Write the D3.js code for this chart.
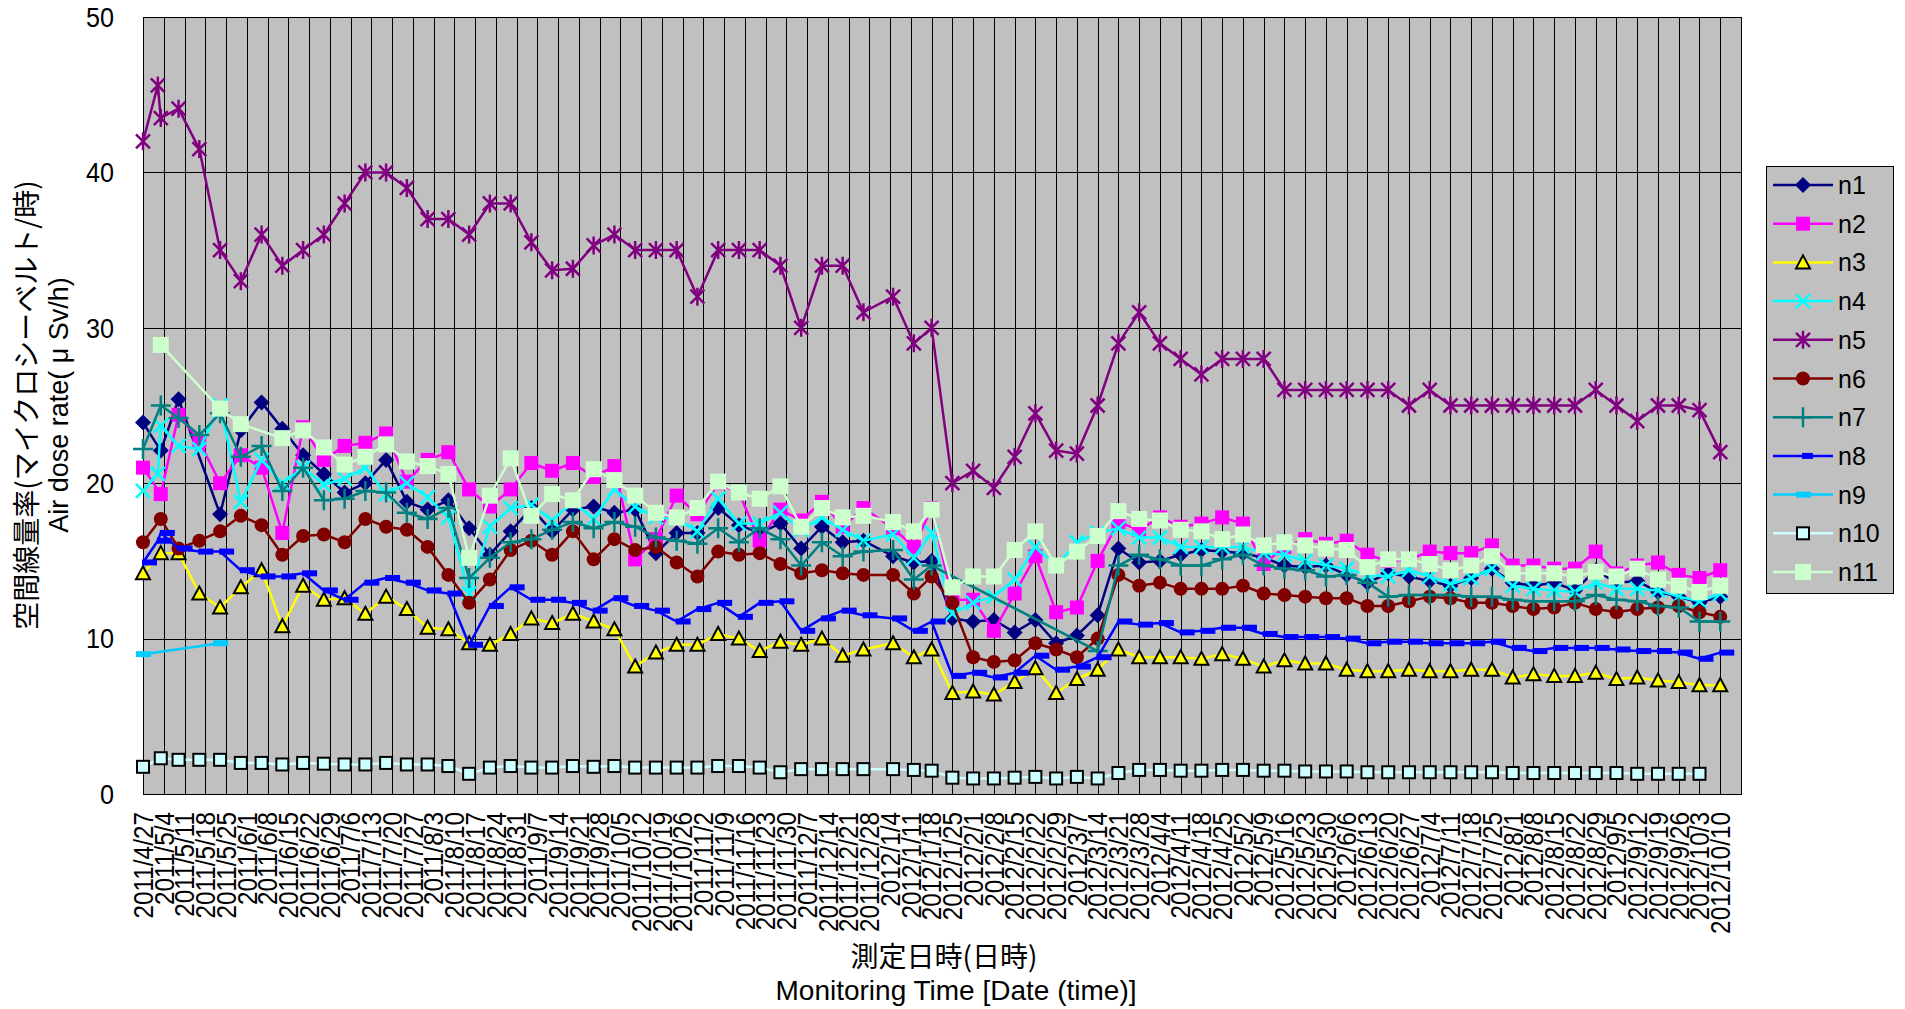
<!DOCTYPE html>
<html>
<head>
<meta charset="utf-8">
<script src="https://cdn.jsdelivr.net/npm/d3@7"></script>
<style>
  body { margin: 0; background: #fff; }
  svg { display: block; font-family: "Liberation Sans", Arial, sans-serif; }
</style>
</head>
<body>
<svg id="chart" width="1905" height="1009"></svg>
<script>
// measurement dates (x values)
const dates = [
  "2011/4/27","2011/5/2","2011/5/3","2011/5/9","2011/5/16","2011/5/23","2011/5/30","2011/6/6","2011/6/13","2011/6/20",
  "2011/6/27","2011/7/4","2011/7/11","2011/7/18","2011/7/25","2011/8/1","2011/8/8","2011/8/15","2011/8/22","2011/8/29",
  "2011/9/5","2011/9/12","2011/9/19","2011/9/26","2011/10/3","2011/10/10","2011/10/17","2011/10/24","2011/10/31","2011/11/7",
  "2011/11/14","2011/11/21","2011/11/28","2011/12/5","2011/12/12","2011/12/19","2011/12/26","2012/1/5","2012/1/12","2012/1/18",
  "2012/1/25","2012/2/1","2012/2/8","2012/2/15","2012/2/22","2012/2/29","2012/3/7","2012/3/14","2012/3/21","2012/3/28",
  "2012/4/4","2012/4/11","2012/4/18","2012/4/25","2012/5/2","2012/5/9","2012/5/16","2012/5/23","2012/5/30","2012/6/6",
  "2012/6/13","2012/6/20","2012/6/27","2012/7/4","2012/7/11","2012/7/18","2012/7/25","2012/8/1","2012/8/8","2012/8/15",
  "2012/8/22","2012/8/29","2012/9/5","2012/9/12","2012/9/19","2012/9/26","2012/10/3","2012/10/10"
];

const n1 = [23.9, null, 22.1, 25.4, null, 18.0, 23.4, 25.2, 23.5, 21.8,
  20.6, 19.4, 20.0, 21.5, 18.8, 18.3, 18.9, 17.1, 15.4, 16.9,
  18.4, 16.9, 18.3, 18.5, 18.1, 18.3, 15.5, 16.8, 16.8, 18.4,
  17.3, 16.8, 17.4, 15.8, 17.2, 16.2, 16.3, 15.3, 14.9, 15.0,
  11.3, 11.1, 11.2, 10.4, 11.2, 9.7, 10.2, 11.5, 15.8, 14.9,
  15.0, 15.4, 15.7, 15.6, 15.5, 15.2, 14.7, 14.6, 14.7, 14.1,
  13.6, 14.2, 14.0, 13.7, 13.4, 13.9, 14.5, 13.6, 13.4, 13.6,
  13.1, 14.4, 13.6, 13.7, 13.0, 12.7, 12.3, 12.7];

const n2 = [21.0, null, 19.3, 24.4, 22.7, 20.0, 21.8, 21.0, 16.8, 23.6,
  21.5, 22.4, 22.6, 23.2, 20.1, 21.5, 22.0, 19.6, 18.5, 19.6,
  21.3, 20.8, 21.3, 20.4, 21.1, 15.1, 16.4, 19.2, 18.0, 20.0,
  19.4, 16.3, 18.3, 17.6, 18.8, 17.2, 18.4, 17.1, 15.9, 18.4,
  12.5, 12.5, 10.5, 12.9, 15.3, 11.7, 12.0, 15.0, 17.5, 17.0,
  17.8, 17.2, 17.4, 17.8, 17.4, 14.8, 15.9, 16.4, 16.1, 16.3,
  15.4, 15.0, 15.1, 15.6, 15.5, 15.5, 16.0, 14.7, 14.7, 14.5,
  14.5, 15.6, 14.2, 14.7, 14.9, 14.1, 13.9, 14.4];

const n3 = [14.2, null, 15.5, 15.5, 12.9, 12.0, 13.3, 14.4, 10.8, 13.4,
  12.5, 12.6, 11.6, 12.7, 11.9, 10.7, 10.6, 9.7, 9.6, 10.3,
  11.3, 11.0, 11.6, 11.1, 10.6, 8.2, 9.1, 9.6, 9.6, 10.3,
  10.0, 9.2, 9.8, 9.6, 10.0, 8.9, 9.3, 9.7, 8.8, 9.3,
  6.5, 6.6, 6.4, 7.2, 8.1, 6.5, 7.4, 8.0, 9.3, 8.8,
  8.8, 8.8, 8.7, 9.0, 8.7, 8.2, 8.6, 8.4, 8.4, 8.0,
  7.9, 7.9, 8.0, 7.9, 7.9, 8.0, 8.0, 7.5, 7.7, 7.6,
  7.6, 7.8, 7.4, 7.5, 7.3, 7.2, 7.0, 7.0];

const n4 = [19.5, 20.6, 23.7, 22.4, 22.2, 25.0, 18.8, 21.5, 20.0, 21.0,
  19.9, 20.3, 21.0, 19.3, 20.0, 19.1, 17.8, 12.9, 17.2, 18.4,
  18.6, 17.6, 18.8, 17.7, 19.6, 18.5, 17.8, 17.7, 16.9, 19.0,
  17.4, 17.4, 18.1, 17.0, 17.8, 17.0, 16.3, 16.7, 15.2, 16.8,
  11.6, 12.3, 12.7, 13.8, 15.9, 14.7, 16.2, 16.8, 17.1, 16.5,
  16.5, 15.9, 15.9, 15.9, 15.9, 15.5, 15.4, 15.0, 14.7, 14.5,
  14.1, 14.0, 14.4, 14.0, 13.5, 13.9, 14.5, 13.4, 13.2, 13.1,
  13.0, 13.6, 13.2, 13.2, 13.1, 12.7, 12.4, 12.9];

const n5 = [42.0, 45.6, 43.5, 44.1, 41.5, 35.0, 33.0, 36.0, 34.0, 35.0,
  36.0, 38.0, 40.0, 40.0, 39.0, 37.0, 37.0, 36.0, 38.0, 38.0,
  35.5, 33.7, 33.8, 35.3, 36.0, 35.0, 35.0, 35.0, 32.0, 35.0,
  35.0, 35.0, 34.0, 30.0, 34.0, 34.0, 31.0, 32.0, 29.0, 30.0,
  20.0, 20.8, 19.7, 21.7, 24.5, 22.1, 21.9, 25.0, 29.0, 31.0,
  29.0, 28.0, 27.0, 28.0, 28.0, 28.0, 26.0, 26.0, 26.0, 26.0,
  26.0, 26.0, 25.0, 26.0, 25.0, 25.0, 25.0, 25.0, 25.0, 25.0,
  25.0, 26.0, 25.0, 24.0, 25.0, 25.0, 24.7, 22.0];

const n6 = [16.2, null, 17.7, 15.8, 16.3, 16.9, 17.9, 17.3, 15.4, 16.6,
  16.7, 16.2, 17.7, 17.2, 17.0, 15.9, 14.1, 12.3, 13.8, 15.7,
  16.3, 15.4, 16.9, 15.1, 16.4, 15.7, 15.9, 14.9, 14.0, 15.6,
  15.4, 15.5, 14.8, 14.2, 14.4, 14.2, 14.1, 14.1, 12.9, 14.0,
  12.3, 8.8, 8.5, 8.6, 9.7, 9.3, 8.8, 10.0, 14.1, 13.4,
  13.6, 13.2, 13.2, 13.2, 13.4, 12.9, 12.8, 12.7, 12.6, 12.6,
  12.1, 12.1, 12.4, 12.7, 12.6, 12.3, 12.3, 12.1, 11.9, 12.0,
  12.3, 11.9, 11.7, 11.9, 12.0, 12.1, 11.7, 11.4];

const n7 = [22.2, null, 25.0, 24.2, 23.1, 24.5, 21.7, 22.4, 19.5, 21.0,
  18.9, 19.0, 19.5, 19.4, 18.1, 17.7, 18.4, 13.9, 15.2, 16.2,
  16.4, 17.0, 17.5, 17.1, 17.5, 17.2, 16.5, 16.3, 16.1, 17.1,
  16.2, 17.1, 16.4, 14.7, 16.2, 15.3, 15.6, 15.7, 13.8, 14.7,
  null, null, null, null, null, null, null, 9.2, 14.7, 15.4,
  15.1, 14.7, 14.7, 15.1, 15.4, 14.7, 14.5, 14.4, 14.0, 14.1,
  13.6, 12.7, 12.8, 12.8, 12.8, 12.7, 12.7, 12.5, 12.4, 12.4,
  12.4, 12.8, 12.5, 12.4, 12.1, 12.0, 11.1, 11.1];

const n8 = [14.9, 16.3, 16.8, 15.8, 15.6, 15.6, 14.4, 14.0, 14.0, 14.2,
  13.1, 12.5, 13.6, 13.9, 13.6, 13.1, 12.9, 9.6, 12.1, 13.3,
  12.5, 12.5, 12.3, 11.8, 12.6, 12.1, 11.8, 11.1, 11.9, 12.3,
  11.4, 12.3, 12.4, 10.5, 11.3, 11.8, 11.5, 11.3, 10.5, 11.1,
  7.6, 7.8, 7.5, 7.8, 8.9, 8.0, 8.2, 8.8, 11.1, 10.9,
  11.0, 10.4, 10.5, 10.7, 10.7, 10.3, 10.1, 10.1, 10.1, 10.0,
  9.7, 9.8, 9.8, 9.7, 9.7, 9.7, 9.8, 9.4, 9.2, 9.4,
  9.4, 9.4, 9.3, 9.2, 9.2, 9.1, 8.7, 9.1];

const n9 = [9.0, null, null, null, null, 9.7, null, null, null, null,
  null, null, null, null, null, null, null, null, null, null,
  null, null, null, null, null, null, null, null, null, null,
  null, null, null, null, null, null, null, null, null, null,
  null, null, null, null, null, null, null, null, null, null,
  null, null, null, null, null, null, null, null, null, null,
  null, null, null, null, null, null, null, null, null, null,
  null, null, null, null, null, null, null, null];

const n10 = [1.75, null, 2.3, 2.2, 2.2, 2.2, 2.0, 2.0, 1.9, 2.0,
  1.95, 1.9, 1.9, 2.0, 1.9, 1.9, 1.8, 1.3, 1.7, 1.8,
  1.7, 1.7, 1.8, 1.75, 1.8, 1.7, 1.7, 1.7, 1.7, 1.8,
  1.8, 1.7, 1.4, 1.6, 1.6, 1.6, 1.6, 1.6, 1.55, 1.5,
  1.05, 1.0, 1.0, 1.05, 1.1, 1.0, 1.1, 1.0, 1.35, 1.55,
  1.55, 1.5, 1.5, 1.55, 1.55, 1.5, 1.5, 1.45, 1.45, 1.45,
  1.4, 1.4, 1.4, 1.4, 1.4, 1.4, 1.4, 1.35, 1.35, 1.35,
  1.35, 1.35, 1.35, 1.3, 1.3, 1.3, 1.3, null];

const n11 = [null, null, 28.9, null, null, 24.8, 23.8, null, 22.9, 23.4,
  22.3, 21.2, 21.7, 22.5, 21.4, 21.1, 20.6, 15.2, 19.2, 21.6,
  17.9, 19.3, 18.9, 20.9, 20.2, 19.2, 18.1, 17.8, 18.4, 20.1,
  19.4, 19.0, 19.8, 17.2, 18.4, 17.8, 17.9, 17.5, 16.9, 18.3,
  13.3, 14.0, 14.0, 15.7, 16.9, 14.7, 15.6, 16.6, 18.2, 17.7,
  17.6, 17.0, 16.9, 16.4, 16.7, 16.0, 16.2, 16.0, 15.8, 15.7,
  14.6, 15.1, 15.1, 14.8, 14.4, 14.7, 15.3, 14.2, 14.2, 14.2,
  14.0, 14.3, 14.0, 14.5, 13.8, 13.4, 13.0, 13.4];

const yTicks = [0, 10, 20, 30, 40, 50];
const axisStart = "2011/4/27", axisEnd = "2012/10/17";

const series = [
  {name: "n1", values: n1, color: "#000080", marker: "diamond"},
  {name: "n2", values: n2, color: "#FF00FF", marker: "square"},
  {name: "n3", values: n3, color: "#FFFF00", marker: "triangle"},
  {name: "n4", values: n4, color: "#00FFFF", marker: "cross"},
  {name: "n5", values: n5, color: "#800080", marker: "star"},
  {name: "n6", values: n6, color: "#800000", marker: "circle"},
  {name: "n7", values: n7, color: "#008080", marker: "plus"},
  {name: "n8", values: n8, color: "#0000FF", marker: "bar"},
  {name: "n9", values: n9, color: "#00CCFF", marker: "dash"},
  {name: "n10", values: n10, color: "#CCFFFF", marker: "hollow"},
  {name: "n11", values: n11, color: "#CCFFCC", marker: "bigsquare"}
];

const parse = d3.timeParse("%Y/%m/%d");
const fmt = d3.timeFormat("%Y/%-m/%-d");
const svg = d3.select("#chart");

const plot = {left: 143, right: 1741, top: 17, bottom: 794};
const x = d3.scaleTime().domain([parse(axisStart), parse(axisEnd)]).range([plot.left, plot.right]);
const y = d3.scaleLinear().domain([0, 50]).range([plot.bottom, plot.top]);

const weeks = d3.timeDay.range(parse(axisStart), d3.timeDay.offset(parse(axisEnd), 1), 7);

// plot area
svg.append("rect")
  .attr("x", plot.left).attr("y", plot.top)
  .attr("width", plot.right - plot.left).attr("height", plot.bottom - plot.top)
  .attr("fill", "#C0C0C0");

// vertical grid
svg.append("g").selectAll("line").data(weeks).join("line")
  .attr("x1", d => Math.round(x(d)) + 0.5).attr("x2", d => Math.round(x(d)) + 0.5)
  .attr("y1", plot.top).attr("y2", plot.bottom)
  .attr("stroke", "#000").attr("stroke-width", 1);

// horizontal grid
svg.append("g").selectAll("line").data(yTicks).join("line")
  .attr("x1", plot.left).attr("x2", plot.right)
  .attr("y1", d => Math.round(y(d)) + 0.5).attr("y2", d => Math.round(y(d)) + 0.5)
  .attr("stroke", "#000").attr("stroke-width", 1);

svg.append("rect")
  .attr("x", plot.left + 0.5).attr("y", plot.top + 0.5)
  .attr("width", plot.right - plot.left).attr("height", plot.bottom - plot.top)
  .attr("fill", "none").attr("stroke", "#000");

// y tick labels (narrow-ish digits like the original)
svg.append("g").selectAll("text").data(yTicks).join("text")
  .attr("transform", d => `translate(114,${y(d)}) scale(0.9,1)`)
  .attr("text-anchor", "end").attr("dy", "0.35em")
  .attr("font-size", 28)
  .text(d => d);

// x tick labels
svg.append("g").selectAll("text").data(weeks.slice(0, -1)).join("text")
  .attr("transform", d => `translate(${x(d)},812) rotate(-90) scale(0.87,1)`)
  .attr("text-anchor", "end").attr("dy", "0.35em")
  .attr("font-size", 28)
  .text(d => fmt(d));

// axis titles
const jp = "'Noto Sans CJK JP', 'Liberation Sans', sans-serif";
svg.append("text").attr("transform", "translate(27,405) rotate(-90)")
  .attr("text-anchor", "middle").attr("dy", "0.35em")
  .attr("font-size", 28).attr("font-family", jp)
  .text("空間線量率(マイクロシーベルト/時)");
svg.append("text").attr("transform", "translate(59,405) rotate(-90)")
  .attr("text-anchor", "middle").attr("dy", "0.35em")
  .attr("font-size", 27)
  .text("Air dose rate( μ Sv/h)");
svg.append("text").attr("x", 944).attr("y", 957)
  .attr("text-anchor", "middle").attr("dy", "0.35em")
  .attr("font-size", 28).attr("font-family", jp)
  .text("測定日時(日時)");
svg.append("text").attr("x", 956).attr("y", 990)
  .attr("text-anchor", "middle").attr("dy", "0.35em")
  .attr("font-size", 28)
  .text("Monitoring Time [Date (time)]");

function drawMarker(g, s, legendMark) {
  const c = s.color;
  switch (s.marker) {
    case "diamond":
      g.append("path").attr("d", "M0,-8L8,0L0,8L-8,0Z").attr("fill", c); break;
    case "square":
      g.append("rect").attr("x", -7).attr("y", -7).attr("width", 14).attr("height", 14).attr("fill", c); break;
    case "bigsquare":
      g.append("rect").attr("x", -8).attr("y", -8).attr("width", 16).attr("height", 16).attr("fill", c); break;
    case "triangle":
      g.append("path").attr("d", "M0,-7L7,6L-7,6Z").attr("fill", c)
        .attr("stroke", "#000").attr("stroke-width", 2).attr("stroke-linejoin", "miter"); break;
    case "cross":
      g.append("path").attr("d", "M-7,-7L7,7M-7,7L7,-7").attr("stroke", c).attr("stroke-width", 2.5); break;
    case "star":
      g.append("path").attr("d", "M-7,-7L7,7M-7,7L7,-7M0,-9V9").attr("stroke", c).attr("stroke-width", 2.5); break;
    case "circle":
      g.append("circle").attr("r", 7).attr("fill", c); break;
    case "plus":
      g.append("path").attr("d", "M-10,0H10M0,-10V10").attr("stroke", c).attr("stroke-width", 2.5); break;
    case "bar":
      // this marker sits to the right of its point
      g.append("rect").attr("x", -1).attr("y", -3).attr("width", legendMark ? 11 : 15).attr("height", 6).attr("fill", c); break;
    case "dash":
      g.append("rect").attr("x", -7).attr("y", -3).attr("width", 15).attr("height", 6).attr("fill", c); break;
    case "hollow":
      g.append("rect").attr("x", -6).attr("y", -6).attr("width", 12).attr("height", 12)
        .attr("fill", c).attr("stroke", "#000").attr("stroke-width", 2); break;
  }
}

const line = d3.line().x(p => x(p.date)).y(p => y(p.v));

series.forEach(s => {
  const pts = dates.map((d, i) => ({date: parse(d), v: s.values[i]})).filter(p => p.v != null);
  const g = svg.append("g");
  g.append("path").datum(pts)
    .attr("fill", "none").attr("stroke", s.color).attr("stroke-width", 2.5)
    .attr("stroke-linejoin", "round").attr("d", line);
  g.selectAll("g").data(pts).join("g")
    .attr("transform", p => `translate(${x(p.date)},${y(p.v)})`)
    .each(function () { drawMarker(d3.select(this), s, false); });
});

// legend
const legend = svg.append("g");
legend.append("rect").attr("x", 1766.5).attr("y", 166.5).attr("width", 127).attr("height", 427)
  .attr("fill", "#C0C0C0").attr("stroke", "#000");
series.forEach((s, i) => {
  const ly = 185 + i * 38.7;
  legend.append("line").attr("x1", 1773).attr("x2", 1833).attr("y1", ly).attr("y2", ly)
    .attr("stroke", s.color).attr("stroke-width", 2.5);
  drawMarker(legend.append("g").attr("transform", `translate(1803,${ly})`), s, true);
  legend.append("text").attr("x", 1838).attr("y", ly).attr("dy", "0.36em")
    .attr("font-size", 25).text(s.name);
});
</script>
</body>
</html>
